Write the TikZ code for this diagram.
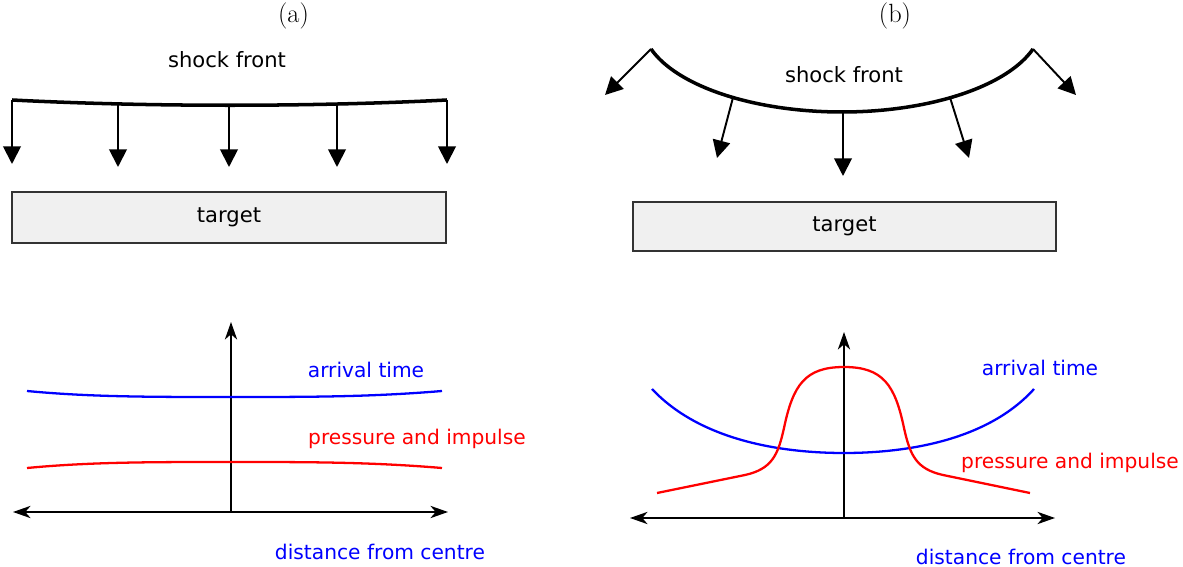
\documentclass[tikz,border=0pt]{standalone}
\usepackage{fontspec}
\newfontfamily\dejavu{DejaVu Sans}
\usetikzlibrary{arrows.meta}
\definecolor{tgtfill}{HTML}{F0F0F0}
\begin{document}
\begin{tikzpicture}[x=0.02cm,y=-0.02cm,
  lbl/.style={font=\dejavu\fontsize{11.5}{14}\selectfont, inner sep=0pt},
  panel/.style={font=\fontsize{15}{17}\selectfont, inner sep=0pt},
  front/.style={line width=2pt},
  ray/.style={line width=1.1pt, -{Triangle[length=10pt,width=10pt]}},
  axup/.style={line width=0.8pt, -{Stealth[length=10pt,width=7pt,inset=3pt]}},
  axboth/.style={line width=0.8pt, {Stealth[length=10pt,width=7pt,inset=3pt]}-{Stealth[length=10pt,width=7pt,inset=3pt]}},
  tgt/.style={draw=black!80, fill=tgtfill, line width=0.8pt, inner sep=0pt,
    font=\dejavu\fontsize{12}{14}\selectfont},
  curve/.style={line width=1.3pt}
]
\useasboundingbox (0,0) rectangle (1183,567);

% ---------------- panel (a) ----------------
\node[panel] (la) at (293.5,16) {(a)};
\node[lbl, font=\dejavu\fontsize{12}{14}\selectfont] (sfa) at (227,60) {shock front};
\draw[front] (12,100) .. controls (150,107) and (310,107) .. (447,100);
\coordinate (a1) at (12,100);
\coordinate (a2) at (118,103.8);
\coordinate (a3) at (229,105.2);
\coordinate (a4) at (337,103.8);
\coordinate (a5) at (447,100);
\coordinate (a1t) at (12,164);
\coordinate (a2t) at (118,167);
\coordinate (a3t) at (229,167);
\coordinate (a4t) at (337,167);
\coordinate (a5t) at (447,164);
\foreach \i in {1,...,5} \draw[ray] (a\i) -- (a\i t);
\node[tgt, minimum width=8.68cm, minimum height=1.02cm] (ta) at (229,217.5) {target};

% graph (a)
\coordinate (ya0) at (231,512);
\coordinate (ya1) at (231,322);
\coordinate (xa0) at (13,512);
\coordinate (xa1) at (448,512);
\draw[axup] (ya0) -- (ya1);
\draw[axboth] (xa0) -- (xa1);
\draw[curve, blue] (27,391) .. controls (90,397) and (150,397) .. (231,397)
  .. controls (310,397) and (370,397) .. (442,391);
\draw[curve, red] (27,468) .. controls (90,462) and (150,462) .. (231,462)
  .. controls (310,462) and (370,462) .. (442,468);
\node[lbl, text=blue] (ata) at (366,370) {arrival time};
\node[lbl, text=red] (ppa) at (417,439) {pressure and impulse};
\node[lbl, text=blue] (dfa) at (380,552) {distance from centre};

% ---------------- panel (b) ----------------
\node[panel] (lb) at (895,16) {(b)};
\node[lbl, font=\dejavu\fontsize{12}{14}\selectfont] (sfb) at (844,75) {shock front};
\draw[front] plot[domain=162.75:17.25, samples=90] ({842+200*cos(\x)},{22.4+89.6*sin(\x)});
\coordinate (b1) at (651,49);
\coordinate (b2) at (733,97.5);
\coordinate (b3) at (843,112);
\coordinate (b4) at (950,97.5);
\coordinate (b5) at (1033,49);
\coordinate (b1t) at (605,95);
\coordinate (b2t) at (717,158);
\coordinate (b3t) at (843,176);
\coordinate (b4t) at (969,158);
\coordinate (b5t) at (1076,95);
\foreach \i in {1,...,5} \draw[ray] (b\i) -- (b\i t);
\node[tgt, minimum width=8.46cm, minimum height=0.98cm] (tb) at (844.5,226.5) {target};

% graph (b)
\coordinate (yb0) at (844,518);
\coordinate (yb1) at (844,332);
\coordinate (xb0) at (630,518);
\coordinate (xb1) at (1055,518);
\draw[axup] (yb0) -- (yb1);
\draw[axboth] (xb0) -- (xb1);
\draw[curve, blue] (652,389) .. controls (700,440) and (780,453) .. (844,453)
  .. controls (908,453) and (988,440) .. (1034,389);
\draw[curve, red] (657,493) -- (745,475) .. controls (772,469) and (778,455) .. (784,428)
  .. controls (793,385) and (805,367) .. (844,367)
  .. controls (883,367) and (895,385) .. (904,428)
  .. controls (910,455) and (916,469) .. (943,475) -- (1030,493);
\node[lbl, text=blue] (atb) at (1040,368) {arrival time};
\node[lbl, text=red] (ppb) at (1070,463) {pressure and impulse};
\node[lbl, text=blue] (dfb) at (1021,557) {distance from centre};
\end{tikzpicture}
\end{document}
